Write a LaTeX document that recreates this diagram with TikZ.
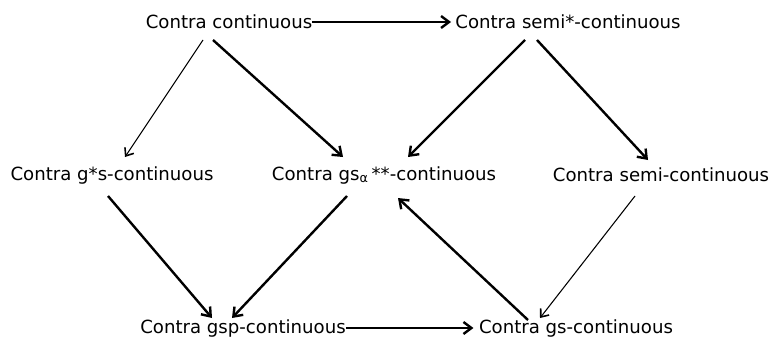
\documentclass[tikz,border=0pt]{standalone}
\usepackage{fontspec}
\setmainfont{DejaVu Sans}
\usetikzlibrary{calc, arrows.meta}

\begin{document}
\begin{tikzpicture}[
	x=0.75pt, y=-0.75pt,
	lbl/.style={inner sep=0pt, font=\fontsize{13.6}{16}\selectfont, text=black},
	arr/.style={-{Straight Barb[length=6pt, width=9pt]}, line width=1.8pt},
	thinarr/.style={-{Straight Barb[length=5pt, width=8pt, line width=1.2pt]}, line width=0.8pt},
	]
	\useasboundingbox (0,0) rectangle (770,339);
	\node[lbl] (cc) at (229,22) {Contra continuous};
	\node[lbl] (semistar) at (568,22) {Contra semi*-continuous};
	\node[lbl] (gstar) at (112,175) {Contra g*s-continuous};
	\node[lbl] (gsa) at (384,175) {Contra gs\textsubscript{α}\,**-continuous};
	\node[lbl] (semi) at (661,175) {Contra semi-continuous};
	\node[lbl] (gsp) at (243,328) {Contra gsp-continuous};
	\node[lbl] (gs) at (576,328) {Contra gs-continuous};
	
	\draw[arr] (cc.east) -- ([xshift=-3pt]semistar.west);
	\draw[thinarr] ($(cc)+(-26,18)$) -- ($(gstar)+(13,-18)$);
	\draw[arr] ($(cc)+(-16,18)$) -- ($(gsa)+(-41,-18)$);
	\draw[arr] ($(semistar)+(-43,18)$) -- ($(gsa)+(24,-18)$);
	\draw[arr] ($(semistar)+(-31,18)$) -- ($(semi)+(-13,-15)$);
	\draw[arr] ($(gstar)+(-4,21)$) -- ($(gsp)+(-31,-10)$);
	\draw[arr] ($(gsa)+(-37,21)$) -- ($(gsp)+(-11,-10)$);
	\draw[thinarr] ($(semi)+(-26,21)$) -- ($(gs)+(-36,-10)$);
	\draw[arr] ($(gs)+(-48,-8)$) -- ($(gsa)+(14,23)$);
	\draw[arr] (gsp.east) -- ([xshift=-4pt]gs.west);
\end{tikzpicture}
\end{document}
